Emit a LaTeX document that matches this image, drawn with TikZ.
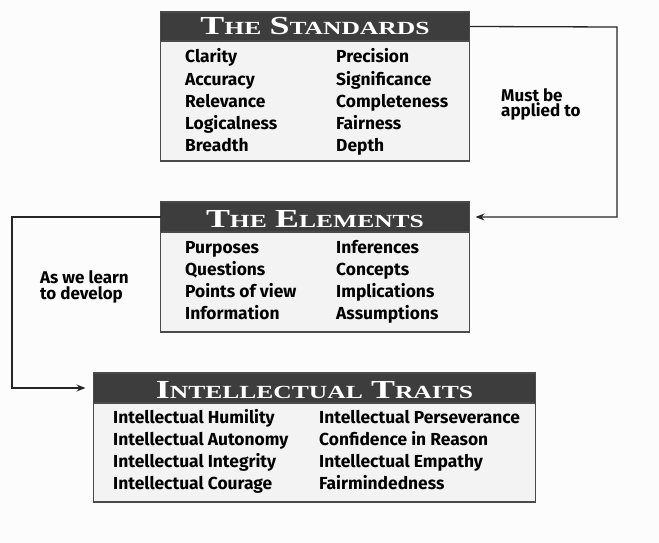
\documentclass[tikz,border=0pt]{standalone}
\usepackage{fontspec}
\setmainfont{Liberation Serif}
\newfontfamily\bodyfont{Fira Sans}
\usetikzlibrary{arrows.meta}
\definecolor{hdr}{HTML}{3D3D3D}
\definecolor{bodyfill}{HTML}{F3F3F3}
\definecolor{edge}{HTML}{4A4A4A}
\newcommand{\bigsc}[2]{{\fontsize{26}{26}\selectfont #1}{\fontsize{18.5}{18.5}\selectfont #2}}
\newcommand{\titletext}[1]{\scalebox{1.38}[1]{\bfseries #1}}
\newcommand{\wgap}{\hspace{6pt}}
\begin{document}
\begin{tikzpicture}[x=1pt,y=-1pt,
  hdrbox/.style={fill=hdr,draw=edge,line width=1.2pt,anchor=north west,inner sep=0pt,outer sep=0pt,text=white,font=\bfseries},
  bodybox/.style={fill=bodyfill,draw=edge,line width=1.2pt,anchor=north west,inner sep=0pt,outer sep=0pt},
  ttl/.style={anchor=base,inner sep=0pt,text=white,font=\bfseries},
  item/.style={anchor=base west,inner sep=0pt,font=\bodyfont\bfseries\fontsize{17.4}{17.4}\selectfont},
  lbl/.style={anchor=base west,inner sep=0pt,align=left,font=\bodyfont\bfseries\fontsize{17}{15.5}\selectfont},
  conn/.style={draw=black!85,line width=1.3pt,-{Stealth[length=9pt,width=7pt]}}]
\useasboundingbox (0,0) rectangle (659,543);
\fill[white!99!black] (0,0) rectangle (659,543);
% Standards
\node[bodybox,minimum width=309pt,minimum height=120pt] (stdbody) at (160.5,41) {};
\node[hdrbox,minimum width=309pt,minimum height=29pt] (stdhdr) at (160.5,12) {};
\node[ttl] (stdtitle) at (315,35) {\titletext{\bigsc{T}{HE}\wgap\bigsc{S}{TANDARDS}}};
\node[item] (s1) at (185,63) {Clarity};
\node[item] (s2) at (185,85) {Accuracy};
\node[item] (s3) at (185,107) {Relevance};
\node[item] (s4) at (185,129) {Logicalness};
\node[item] (s5) at (185,151) {Breadth};
\node[item] (s6) at (336,63) {Precision};
\node[item] (s7) at (336,85) {Significance};
\node[item] (s8) at (336,107) {Completeness};
\node[item] (s9) at (336,129) {Fairness};
\node[item] (s10) at (336,151) {Depth};
% Elements
\node[bodybox,minimum width=309pt,minimum height=100pt] (elbody) at (160.5,232) {};
\node[hdrbox,minimum width=309pt,minimum height=30pt] (elhdr) at (160.5,202) {};
\node[ttl] (eltitle) at (315,227) {\titletext{\bigsc{T}{HE}\wgap\bigsc{E}{LEMENTS}}};
\node[item] (e1) at (185,253) {Purposes};
\node[item] (e2) at (185,275) {Questions};
\node[item] (e3) at (185,297) {Points of view};
\node[item] (e4) at (185,319) {Information};
\node[item] (e5) at (336,253) {Inferences};
\node[item] (e6) at (336,275) {Concepts};
\node[item] (e7) at (336,297) {Implications};
\node[item] (e8) at (336,319) {Assumptions};
% Traits
\node[bodybox,minimum width=442pt,minimum height=99pt] (trbody) at (93.5,403) {};
\node[hdrbox,minimum width=442pt,minimum height=30pt] (trhdr) at (93.5,373) {};
\node[ttl] (trtitle) at (314.5,398) {\titletext{\bigsc{I}{NTELLECTUAL}\wgap\bigsc{T}{RAITS}}};
\node[item] (t1) at (113,423) {Intellectual Humility};
\node[item] (t2) at (113,445) {Intellectual Autonomy};
\node[item] (t3) at (113,467) {Intellectual Integrity};
\node[item] (t4) at (113,489) {Intellectual Courage};
\node[item] (t5) at (319,423) {Intellectual Perseverance};
\node[item] (t6) at (319,445) {Confidence in Reason};
\node[item] (t7) at (319,467) {Intellectual Empathy};
\node[item] (t8) at (319,489) {Fairmindedness};
% Connectors
\coordinate (rc) at (617,27);
\coordinate (lc) at (12,217);
\draw[conn,shorten >=6pt] (stdhdr.east) -- (rc) |- (elhdr.east);
\draw[conn,shorten >=8pt] (elhdr.west) -- (lc) |- (trhdr.west);
\node[lbl] (ml) at (501,117) {Must be\\applied to};
\node[lbl] (al) at (40,299) {As we learn\\to develop};
\end{tikzpicture}
\end{document}
